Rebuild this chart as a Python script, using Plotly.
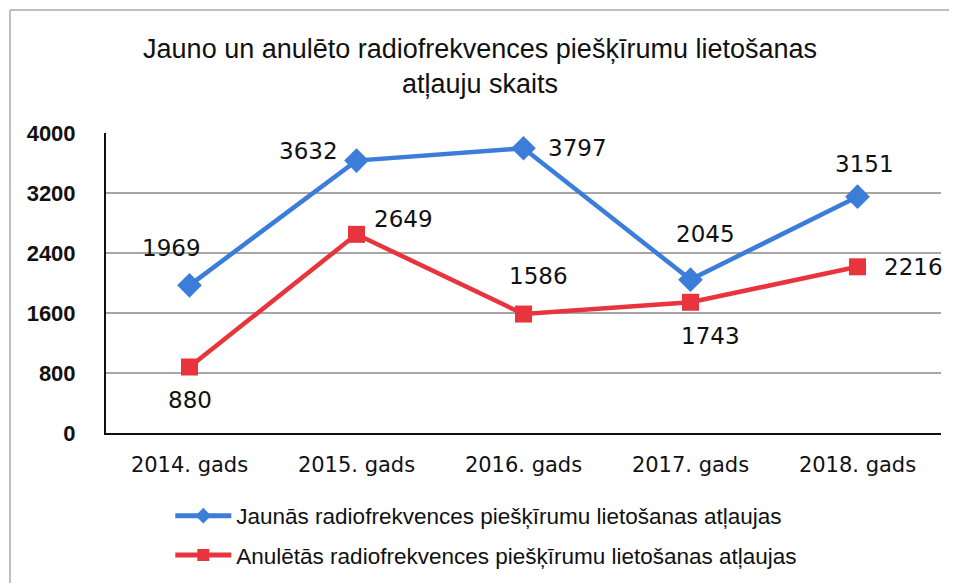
import plotly.graph_objects as go

categories = ["2014. gads", "2015. gads", "2016. gads", "2017. gads", "2018. gads"]
new_permits = [1969, 3632, 3797, 2045, 3151]
cancelled_permits = [880, 2649, 1586, 1743, 2216]
series_names = [
    "Jaunās radiofrekvences piešķīrumu lietošanas atļaujas",
    "Anulētās radiofrekvences piešķīrumu lietošanas atļaujas",
]
title_text = "Jauno un anulēto radiofrekvences piešķīrumu lietošanas<br>atļauju skaits"
y_ticks = [0, 800, 1600, 2400, 3200, 4000]

# label offsets (pixels) per point
new_offsets = [(-18, 37), (-48, 10), (54, 0), (15, 46), (7, 33)]
cancel_offsets = [(0, -33), (47, 15), (15, 38), (20, -34), (56, 0)]

BLUE = "#3b7dd8"
RED = "#e8343c"
LABEL_FONT = dict(family="DejaVu Sans", size=23, color="#111111")

fig = go.Figure()
fig.add_trace(go.Scatter(
    x=categories, y=new_permits, mode="lines+markers", name=series_names[0],
    line=dict(color=BLUE, width=4.5),
    marker=dict(symbol="diamond", size=19, color=BLUE),
    legendgroup="a",
))
fig.add_trace(go.Scatter(
    x=categories, y=cancelled_permits, mode="lines+markers", name=series_names[1],
    line=dict(color=RED, width=4.5),
    marker=dict(symbol="square", size=17, color=RED),
    legendgroup="b",
))

annotations = []
for vals, offs in ((new_permits, new_offsets), (cancelled_permits, cancel_offsets)):
    for cat, v, (dx, dy) in zip(categories, vals, offs):
        annotations.append(dict(
            x=cat, y=v, xref="x", yref="y", text=str(v), showarrow=False,
            xshift=dx, yshift=dy, font=LABEL_FONT,
        ))

fig.update_layout(
    width=949, height=576,
    margin=dict(l=98, r=16, t=125, b=151, autoexpand=False),
    paper_bgcolor="white", plot_bgcolor="white",
    title=dict(
        text=title_text, x=0.4974, xanchor="center", xref="container",
        y=0.913, yanchor="top", yref="container",
        font=dict(family="Liberation Sans", size=27, color="#111111"),
    ),
    showlegend=True,
    legend=dict(
        x=0.077, xanchor="left", y=-0.205, yanchor="top",
        orientation="v", tracegroupgap=7,
        font=dict(family="Liberation Sans", size=22.5, color="#111111"),
        bgcolor="rgba(0,0,0,0)", itemwidth=56, itemsizing="constant",
    ),
    annotations=annotations,
    shapes=[
        dict(type="line", xref="paper", yref="paper", x0=-0.115, x1=-0.115, y0=-0.5, y1=1.41,
             line=dict(color="#aaaaaa", width=1.5)),
        dict(type="line", xref="paper", yref="paper", x0=-0.115, x1=1.03, y0=1.41, y1=1.41,
             line=dict(color="#aaaaaa", width=1.5)),
    ],
)

fig.update_xaxes(
    type="category", range=[-0.5, 4.5],
    showline=True, linecolor="#111111", linewidth=2,
    showgrid=False, ticks="",
    tickfont=dict(family="DejaVu Sans", size=21, color="#111111"),
    ticklabelstandoff=12,
)
fig.update_yaxes(
    range=[0, 4000], tickvals=y_ticks,
    showline=True, linecolor="#111111", linewidth=2,
    showgrid=True, gridcolor="#a6a6a6", gridwidth=1.5,
    zeroline=False, ticks="",
    tickfont=dict(family="Liberation Sans", size=22, color="#111111", weight="bold"),
    ticklabelstandoff=24,
)

fig.write_html("out.html")
